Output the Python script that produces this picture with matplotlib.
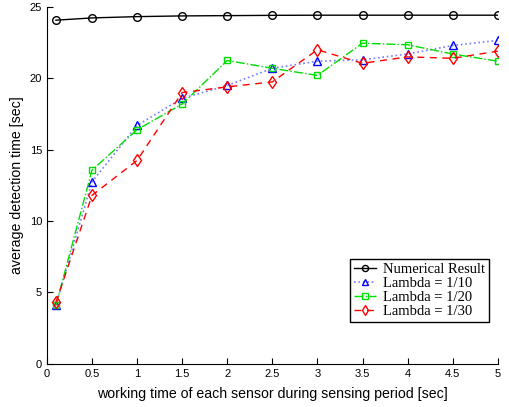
import numpy as np
import matplotlib.pyplot as plt

# working time of each sensor [sec]
x = [0.1, 0.5, 1, 1.5, 2, 2.5, 3, 3.5, 4, 4.5, 5]

# average detection time [sec]
numerical = [24.07, 24.23, 24.32, 24.37, 24.39, 24.41, 24.42, 24.42, 24.42, 24.42, 24.42]
lambda_10 = [4.1, 12.75, 16.7, 18.6, 19.5, 20.7, 21.2, 21.3, 21.7, 22.3, 22.65]
lambda_20 = [4.1, 13.57, 16.4, 18.2, 21.25, 20.7, 20.2, 22.46, 22.35, 21.7, 21.2]
lambda_30 = [4.3, 11.8, 14.25, 19.0, 19.4, 19.75, 22.0, 21.05, 21.5, 21.4, 21.9]

xticks = [0, 0.5, 1, 1.5, 2, 2.5, 3, 3.5, 4, 4.5, 5]
xticklabels = ['0', '0.5', '1', '1.5', '2', '2.5', '3', '3.5', '4', '4.5', '5']
yticks = [0, 5, 10, 15, 20, 25]

plt.rcParams['font.family'] = ['Liberation Sans', 'DejaVu Sans']

fig = plt.figure(figsize=(5.1, 4.07), dpi=100)
ax = fig.add_axes([0.092, 0.106, 0.884, 0.877])

ms = 5.5
ax.plot(x, numerical, '-', color='black', marker='o', mfc='none', ms=ms, lw=1.0,
        label='Numerical Result')
ax.plot(x, lambda_10, ':', color='#7a7aff', marker='^', mec='blue', mfc='none', ms=ms + 0.5,
        lw=1.2, label='Lambda = 1/10')
ax.plot(x, lambda_20, '-.', color='#00dd00', marker='s', mfc='none', ms=ms - 0.5, lw=1.0,
        label='Lambda = 1/20')
ax.plot(x, lambda_30, '--', color='red', marker='d', mfc='none', ms=ms + 0.5, lw=1.0,
        dashes=(5, 4), label='Lambda = 1/30')

ax.set_xlim(0, 5)
ax.set_ylim(0, 25)
ax.set_xticks(xticks)
ax.set_xticklabels(xticklabels)
ax.set_yticks(yticks)
ax.tick_params(direction='in', labelsize=8, length=4, width=0.8, top=False, right=False)
ax.spines['top'].set_visible(False)
ax.spines['right'].set_visible(False)

ax.set_xlabel('working time of each sensor during sensing period [sec]', fontsize=10.2, labelpad=6)
ax.set_ylabel('average detection time [sec]', fontsize=10.2, labelpad=4)

leg = ax.legend(loc='lower right', bbox_to_anchor=(0.98, 0.118), fancybox=False,
                edgecolor='black', framealpha=1, handlelength=1.5, borderpad=0.25,
                labelspacing=0.05, handletextpad=0.5, borderaxespad=0, markerscale=0.8,
                prop={'family': 'Liberation Serif', 'size': 10.5})
leg.get_frame().set_linewidth(1.0)

fig.savefig('out.png', dpi=100)
